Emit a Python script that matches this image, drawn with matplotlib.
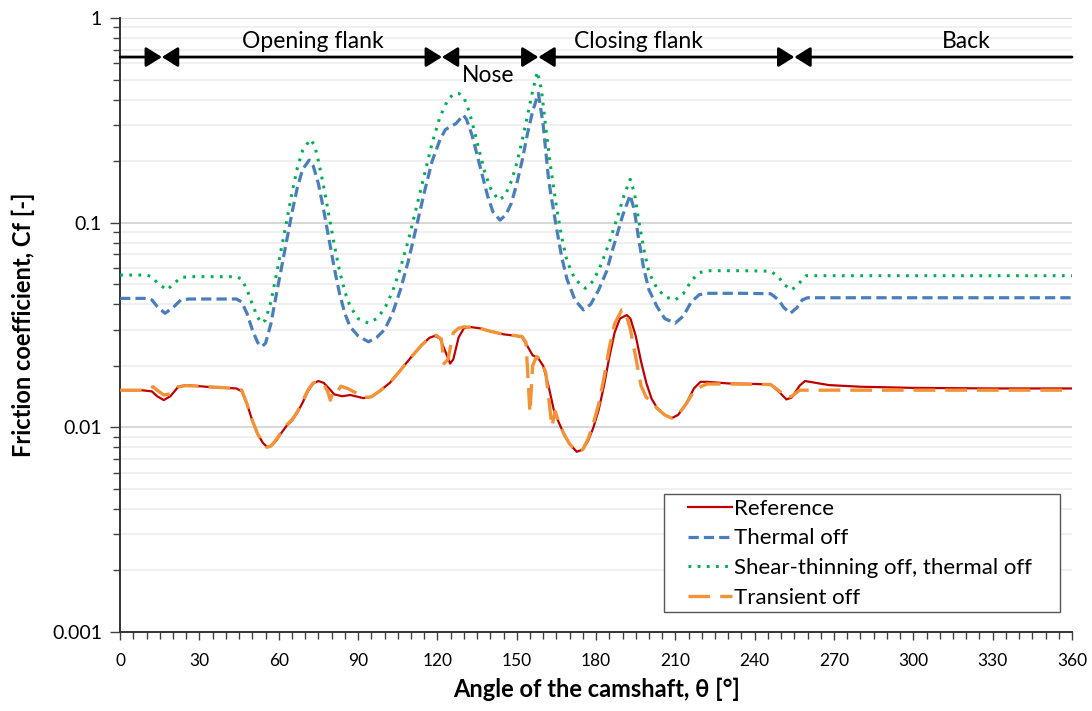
import matplotlib

matplotlib.use("Agg")
import matplotlib.pyplot as plt
from matplotlib.legend_handler import HandlerLine2D
from matplotlib.lines import Line2D
from matplotlib.ticker import FixedLocator, LogLocator, NullFormatter

plt.rcParams["font.family"] = ["Lato", "DejaVu Sans"]

# Reference (solid red)
ref_theta = [0, 8, 12, 14, 16.5, 19, 22, 25, 30, 35, 40, 44, 46, 48, 50, 52, 54,
             55.5, 57, 59, 61, 63, 65, 67, 69, 71, 73, 75, 77, 79, 81, 84, 87,
             90, 92, 95, 98, 102, 106, 110, 114, 117, 119, 121, 123, 124.8, 126,
             128, 130, 132, 136, 140, 145, 150, 152, 154, 156, 158, 160, 162,
             164, 166, 168, 170, 172.7, 175, 177, 179, 181, 183, 185, 187, 189,
             191.6, 193, 195, 197, 199, 201, 203, 206, 208.6, 211, 214, 217,
             219.5, 222, 230, 240, 246, 249, 252, 254, 257, 259, 262, 268, 280,
             300, 330, 360]
ref_cf = [0.0152, 0.0152, 0.0150, 0.0142, 0.0136, 0.0142, 0.0158, 0.0161, 0.0159,
          0.0157, 0.0156, 0.0155, 0.0150, 0.0130, 0.0108, 0.0093, 0.0084,
          0.00805, 0.0081, 0.0086, 0.0094, 0.0102, 0.0108, 0.0118, 0.0132,
          0.0150, 0.0164, 0.01685, 0.0165, 0.0155, 0.0145, 0.0142, 0.0144,
          0.0141, 0.0139, 0.0141, 0.0150, 0.0165, 0.0190, 0.0220, 0.0252,
          0.0274, 0.0280, 0.0272, 0.0235, 0.0205, 0.0215, 0.0275, 0.0305,
          0.0310, 0.0305, 0.0295, 0.0285, 0.0280, 0.0276, 0.0250, 0.0225,
          0.0219, 0.0200, 0.0160, 0.0122, 0.0105, 0.0092, 0.0083, 0.0076,
          0.0078, 0.0086, 0.0100, 0.0122, 0.0160, 0.0220, 0.0290, 0.0340,
          0.0354, 0.0340, 0.0280, 0.0210, 0.0165, 0.0138, 0.0125, 0.0115,
          0.0111, 0.0115, 0.0130, 0.0155, 0.0167, 0.0167, 0.0164, 0.0163,
          0.0162, 0.0150, 0.0137, 0.0140, 0.0160, 0.01685, 0.0166, 0.0161,
          0.0158, 0.0156, 0.0155, 0.0155]

# Thermal off (blue dashed)
th_theta = [0, 10, 12, 14, 17, 20, 23, 26, 35, 44, 46, 48, 50, 52, 53.6, 55, 57,
            59, 61, 63, 65, 67, 69, 71.5, 73, 75, 77, 79, 81, 83, 85, 87, 90,
            93.9, 97, 100, 103, 106, 109, 112, 115, 118, 121, 123, 124.8, 127,
            129.8, 131, 133, 135, 137, 139, 141, 143.7, 146, 148, 150, 152, 154,
            156, 158.2, 160, 162, 163, 165, 167, 169, 172, 175.2, 178, 181, 184,
            186, 188, 190, 192.9, 194.5, 196, 198, 200, 203, 206, 209.9, 213,
            216, 219, 222, 235, 246, 249, 251, 253.5, 256, 258, 260, 360]
th_cf = [0.0427, 0.0427, 0.0420, 0.0390, 0.0361, 0.0385, 0.0420, 0.0424, 0.0424,
         0.0424, 0.0410, 0.0360, 0.0300, 0.0260, 0.0248, 0.0258, 0.0320, 0.0440,
         0.0600, 0.0820, 0.112, 0.148, 0.182, 0.2024, 0.190, 0.155, 0.115,
         0.083, 0.060, 0.045, 0.036, 0.031, 0.028, 0.0262, 0.0275, 0.030,
         0.036, 0.047, 0.065, 0.095, 0.140, 0.200, 0.255, 0.285, 0.294, 0.305,
         0.336, 0.320, 0.270, 0.215, 0.170, 0.135, 0.113, 0.103, 0.110, 0.125,
         0.155, 0.200, 0.270, 0.350, 0.429, 0.300, 0.165, 0.135, 0.095, 0.068,
         0.053, 0.042, 0.0375, 0.040, 0.047, 0.058, 0.072, 0.088, 0.108,
         0.1365, 0.115, 0.085, 0.060, 0.047, 0.039, 0.034, 0.0323, 0.035,
         0.041, 0.0445, 0.0452, 0.0452, 0.0450, 0.0420, 0.0385, 0.0361, 0.0385,
         0.0420, 0.0430, 0.0430]

# Shear-thinning off, thermal off (green dotted)
st_theta = [0, 10, 12, 14, 17.7, 20, 23, 26, 44, 46, 48, 50, 52, 53.6, 55, 57,
            59, 61, 63, 65, 67, 69, 71.9, 73.5, 75, 77, 79, 81, 83, 85, 87, 90,
            93.9, 97, 100, 103, 106, 109, 112, 115, 118, 121, 124, 126, 128,
            130, 132, 134, 136, 138, 140, 143.1, 145.5, 148, 150, 152, 154, 156,
            157.8, 159.3, 161, 163, 165, 167, 169, 172, 175.9, 179, 182, 185,
            188, 190.5, 192.9, 194.5, 196, 198, 200, 203, 206, 209.9, 213, 216,
            219, 222, 235, 246, 249, 251, 254, 257, 259.5, 360]
st_cf = [0.0555, 0.0555, 0.0545, 0.0510, 0.0469, 0.0500, 0.0540, 0.0545, 0.0545,
         0.0530, 0.0470, 0.0400, 0.0345, 0.0323, 0.0335, 0.041, 0.055, 0.075,
         0.102, 0.140, 0.185, 0.225, 0.2554, 0.240, 0.200, 0.150, 0.108, 0.078,
         0.058, 0.046, 0.039, 0.034, 0.0323, 0.034, 0.038, 0.046, 0.060, 0.082,
         0.118, 0.170, 0.245, 0.330, 0.400, 0.425, 0.429, 0.410, 0.350, 0.280,
         0.220, 0.175, 0.148, 0.129, 0.135, 0.160, 0.195, 0.250, 0.330, 0.440,
         0.547, 0.450, 0.290, 0.180, 0.120, 0.085, 0.065, 0.053, 0.0478, 0.052,
         0.063, 0.080, 0.106, 0.135, 0.163, 0.140, 0.105, 0.075, 0.057, 0.048,
         0.0435, 0.0419, 0.045, 0.052, 0.057, 0.0583, 0.0583, 0.0580, 0.0545,
         0.050, 0.0469, 0.051, 0.0551, 0.0551]

# Transient off (orange long dash)
tr_theta = [0, 10, 12.5, 14, 16.5, 19, 22, 25, 30, 44, 46, 48, 50, 52, 54, 55.5,
            57, 59, 61, 63, 65, 67, 69, 71, 73, 75, 77, 78.5, 79.5, 80.5, 81.5,
            83.5, 86, 89, 92, 95, 98, 102, 106, 110, 114, 117, 119.5, 121.5,
            122.5, 124, 126, 128, 130, 136, 140, 145, 150, 152, 153.5, 155, 156,
            157.5, 159, 161, 163.3, 164.5, 166, 168, 170, 172.7, 175, 177, 179,
            181, 183, 185, 187, 189.7, 191, 193, 195, 197, 199, 201, 203, 206,
            208.6, 211, 214, 217, 219.5, 222, 230, 246, 249, 252, 254, 257, 260,
            360]
tr_cf = [0.0152, 0.0152, 0.0158, 0.0152, 0.0144, 0.0146, 0.0158, 0.0160, 0.0159,
         0.0155, 0.0152, 0.0130, 0.0108, 0.0093, 0.0084, 0.0080, 0.0081,
         0.0087, 0.0095, 0.0103, 0.0109, 0.0119, 0.0134, 0.0152, 0.0165,
         0.0167, 0.0162, 0.0150, 0.0136, 0.0148, 0.0145, 0.0159, 0.0155,
         0.0148, 0.0140, 0.0141, 0.0150, 0.0165, 0.0190, 0.0220, 0.0252,
         0.0274, 0.0282, 0.0270, 0.0205, 0.0215, 0.0290, 0.0305, 0.0310,
         0.0305, 0.0295, 0.0285, 0.0280, 0.0278, 0.0260, 0.0118, 0.0200,
         0.0222, 0.0215, 0.0185, 0.0101, 0.0120, 0.0105, 0.0092, 0.0083,
         0.0076, 0.0078, 0.0088, 0.0105, 0.0130, 0.0175, 0.0245, 0.0320,
         0.0375, 0.0370, 0.0300, 0.0220, 0.0160, 0.0140, 0.0135, 0.0124,
         0.0115, 0.0111, 0.0115, 0.0130, 0.0150, 0.0158, 0.0163, 0.0163,
         0.0162, 0.0152, 0.0140, 0.0142, 0.0152, 0.0152, 0.0152]

# cam phases along the top
phase_bounds = [0, 15.8, 121.7, 158.2, 255.0, 360]
phase_labels = ["", "Opening flank", "Nose", "Closing flank", "Back"]
phase_label_x = [8, 73, 139, 196, 320]
phase_label_y = [0.77, 0.77, 0.525, 0.77, 0.77]
phase_y = 0.645

fig = plt.figure(figsize=(10.92, 7.11), dpi=100)
ax = fig.add_axes([0.11, 0.111, 0.8717, 0.8636])

ax.plot(th_theta, th_cf, color="#4A7EBB", lw=2.3, linestyle=(0, (3.2, 1.6)),
        label="Thermal off", zorder=3)
ax.plot(st_theta, st_cf, color="#00B050", lw=2.2, linestyle=(0, (0.9, 2.1)),
        label="Shear-thinning off, thermal off", zorder=3)
ax.plot(ref_theta, ref_cf, color="#C00000", lw=1.6, label="Reference", zorder=4)
ax.plot(tr_theta, tr_cf, color="#F39237", lw=2.4, linestyle=(0, (6.5, 3)),
        label="Transient off", zorder=5)

ax.set_yscale("log")
ax.set_xlim(0, 360)
ax.set_ylim(0.001, 1)

ax.xaxis.set_major_locator(FixedLocator(range(0, 361, 30)))
ax.xaxis.set_minor_locator(FixedLocator(range(0, 361, 5)))
ax.yaxis.set_major_locator(FixedLocator([0.001, 0.01, 0.1, 1]))
ax.yaxis.set_minor_locator(LogLocator(base=10, subs=range(2, 10)))
ax.yaxis.set_minor_formatter(NullFormatter())
ax.set_yticklabels(["0.001", "0.01", "0.1", "1"])

ax.tick_params(axis="both", which="both", direction="out", color="#404040")
ax.tick_params(axis="x", which="major", length=6, width=1, pad=9, labelsize=12.5)
ax.tick_params(axis="x", which="minor", length=5, width=1)
ax.tick_params(axis="y", which="major", length=7, width=1, pad=6, labelsize=14)
ax.tick_params(axis="y", which="minor", length=5, width=1)

ax.grid(True, which="major", axis="y", color="#D4D4D4", lw=1.3, zorder=0)
ax.grid(True, which="minor", axis="y", color="#EEEEEE", lw=1.2, zorder=0)
ax.set_axisbelow(True)

for side in ["top", "right"]:
    ax.spines[side].set_visible(False)
for side in ["left", "bottom"]:
    ax.spines[side].set_color("#333333")
    ax.spines[side].set_linewidth(1.4)

# phase arrows
for i in range(len(phase_bounds) - 1):
    a, b = phase_bounds[i], phase_bounds[i + 1]
    if i == 0:
        style = "-|>,head_length=0.4,head_width=0.25"
    elif i == len(phase_bounds) - 2:
        style = "<|-,head_length=0.4,head_width=0.25"
    else:
        style = "<|-|>,head_length=0.4,head_width=0.25"
    ax.annotate("", xy=(b, phase_y), xytext=(a, phase_y),
                arrowprops=dict(arrowstyle=style, color="black", lw=2,
                                mutation_scale=24, shrinkA=0, shrinkB=0),
                zorder=6)
for lab, lx, ly in zip(phase_labels, phase_label_x, phase_label_y):
    if lab:
        ax.text(lx, ly, lab, ha="center", va="center", fontsize=16.5,
                color="black", zorder=6)

ax.set_xlabel("Angle of the camshaft, θ [°]", fontsize=17, fontweight="bold",
              labelpad=6)
ax.set_ylabel("Friction coefficient, Cf [-]", fontsize=17, fontweight="bold",
              labelpad=12)

handles, labels = ax.get_legend_handles_labels()
order = [2, 0, 1, 3]
leg = ax.legend([handles[k] for k in order], [labels[k] for k in order],
                loc="upper left", bbox_to_anchor=(0.608, 0.131, 0.363, 0.174),
                bbox_transform=fig.transFigure, mode="expand", fontsize=16,
                handlelength=2.85, handletextpad=0.12, labelspacing=0.44,
                borderpad=0.2, fancybox=False, framealpha=1,
                edgecolor="#555555", borderaxespad=0,
                handler_map={Line2D: HandlerLine2D(xpad=0.9)})
leg.get_frame().set_linewidth(1.0)

fig.savefig("out.png", dpi=100)
